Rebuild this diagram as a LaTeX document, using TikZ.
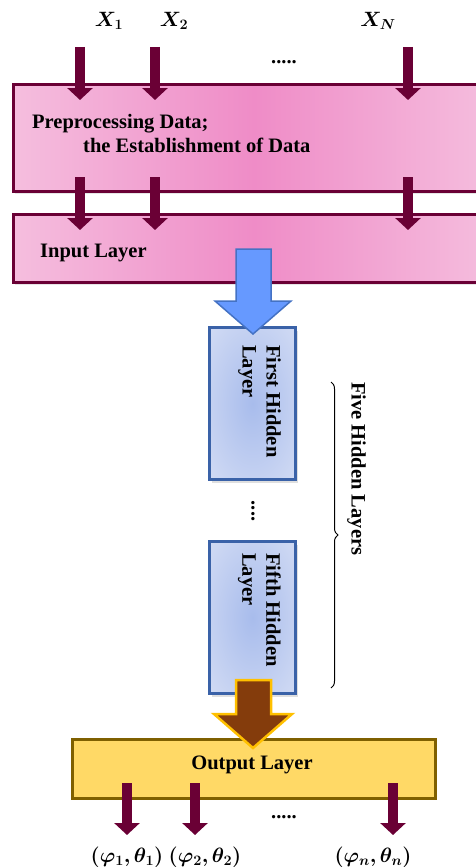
\documentclass[tikz,border=0pt]{standalone}
\usepackage{fontspec}
\setmainfont{Liberation Serif}
\usepackage{bm}
\usetikzlibrary{arrows.meta,shadows,decorations.pathreplacing}

\definecolor{wine}{HTML}{6A0035}
\definecolor{pinkmid}{HTML}{EF8CC7}
\definecolor{pinkedge}{HTML}{F8D8EA}
\definecolor{hidmid}{HTML}{A8BCEC}
\definecolor{hidedge}{HTML}{DCE3F6}
\definecolor{hidline}{HTML}{3A62A8}
\definecolor{flowblue}{HTML}{6699FF}
\definecolor{flowblueline}{HTML}{4472C4}
\definecolor{outfill}{HTML}{FFD966}
\definecolor{outline}{HTML}{7F6000}
\definecolor{flowbrown}{HTML}{843C0C}
\definecolor{amber}{HTML}{FFC000}

\pgfdeclareradialshading{hidglow}{\pgfpoint{0bp}{0bp}}{color(0bp)=(hidmid); color(45bp)=(hidedge); color(72bp)=(hidedge)}
\pgfdeclarehorizontalshading{pinkband}{100bp}{color(0bp)=(pinkedge); color(12bp)=(pinkedge); color(50bp)=(pinkmid); color(88bp)=(pinkedge); color(100bp)=(pinkedge)}

\newcommand{\lblfont}{\fontsize{20.5}{24}\selectfont\bfseries}

\begin{document}
\begin{tikzpicture}[x=1pt, y=-1pt,
    layer/.style={draw=wine, line width=3pt, shading=pinkband,
        minimum width=481pt, drop shadow={opacity=0.2, shadow xshift=1pt, shadow yshift=-2pt}},
    hidden/.style={draw=hidline, line width=3pt, shading=hidglow, minimum width=86pt, minimum height=152pt,
        drop shadow={opacity=0.25, shadow xshift=2pt, shadow yshift=-3pt}},
    outbox/.style={draw=outline, line width=3pt, fill=outfill, minimum width=363pt, minimum height=59pt},
    feed/.style={wine, line width=10pt, -{Triangle[width=25pt, length=12pt]}},
    txt/.style={font=\lblfont, inner sep=0pt},
    vtxt/.style={txt, rotate=-90, anchor=north west, align=left},
    sym/.style={inner sep=0pt, font=\fontsize{22}{26}\selectfont}
]
\path[use as bounding box, clip] (0,0) rectangle (476,867);

% Input names
\node[sym] (x1) at (109,21) {$\bm{X_1}$};
\node[sym] (x2) at (174,21) {$\bm{X_2}$};
\node[sym] (xn) at (378,21) {$\bm{X_N}$};
\node[txt] (dotsin) at (284,62) {.....};

% Preprocessing and input layers
\node[layer, minimum height=107pt] (prep) at (254,138) {};
\node[layer, minimum height=68pt] (inp) at (254,248.5) {};
\node[txt, anchor=north west, align=left] (preptxt) at (32,114) {Preprocessing Data;\\\hspace{51pt}the Establishment of Data};
\node[txt, anchor=base west] (inptxt) at (40,257) {Input Layer};

\foreach \x/\i in {80/1,155/2,408/N}{
    \coordinate (src\i) at (\x,47);
    \coordinate (mid\i) at (\x,177);
    \draw[feed] (src\i) -- ++(0,53);
    \draw[feed] (mid\i) -- ++(0,53);
}

% Hidden layers
\node[hidden] (h1) at (252.5,403.5) {};
\node[hidden] (h5) at (252.5,617.5) {};
\node[vtxt] (h1txt) at (281,345) {First Hidden\\Layer};
\node[vtxt] (h5txt) at (281,553) {Fifth Hidden\\Layer};
\node[txt, rotate=-90] (hdots) at (253,511) {....};

% Block arrow into the hidden layers
\draw[fill=flowblue, draw=flowblueline, line width=1.5pt, line join=miter]
    (236,249) -- (271,249) -- (271,301) -- (291,301) -- (253,334) -- (215,301) -- (236,301) -- cycle;

% Brace
\coordinate (braceTop) at (331,382);
\coordinate (braceBot) at (331,688);
\draw[line width=1pt, decorate, decoration={brace, amplitude=7pt}] (braceTop) -- (braceBot);
\node[vtxt] (fivetxt) at (366,382) {Five Hidden Layers};

% Output layer
\node[outbox] (out) at (254,769) {};
\node[txt, anchor=base] (outtxt) at (252,769) {Output Layer};

% Block arrow into the output layer
\draw[fill=flowbrown, draw=amber, line width=2.5pt, line join=miter]
    (236,680) -- (271,680) -- (271,714) -- (292,714) -- (253,748) -- (214,714) -- (236,714) -- cycle;

\foreach \x/\i in {127/1,195/2,393/n}{
    \coordinate (res\i) at (\x,783);
    \draw[feed] (res\i) -- ++(0,52);
}
\node[txt] (dotsout) at (284,817) {.....};

% Outputs
\node[sym, font=\fontsize{20}{24}\selectfont] (y1) at (127,857) {$\bm{(\varphi_1,\theta_1)}$};
\node[sym, font=\fontsize{20}{24}\selectfont] (y2) at (205,857) {$\bm{(\varphi_2,\theta_2)}$};
\node[sym, font=\fontsize{20}{24}\selectfont] (yn) at (373,857) {$\bm{(\varphi_n,\theta_n)}$};

\end{tikzpicture}
\end{document}
